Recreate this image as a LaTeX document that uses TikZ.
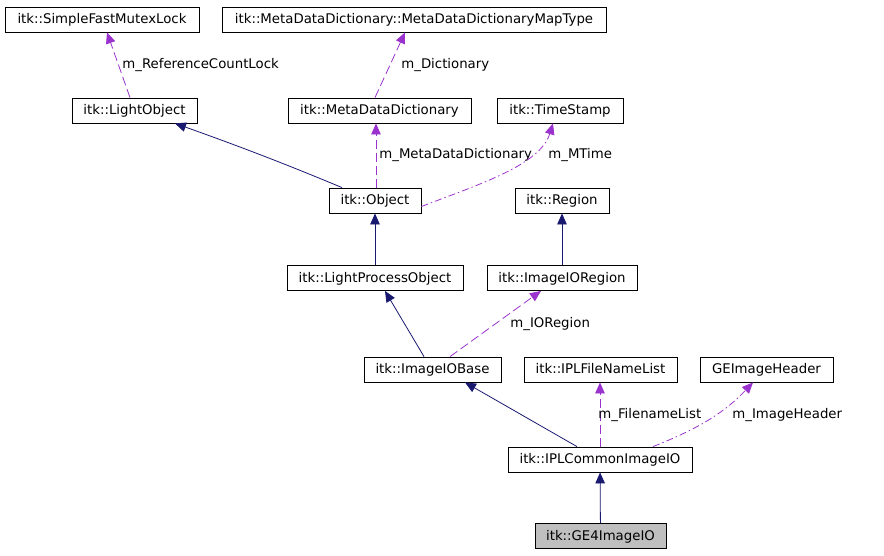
\documentclass[tikz,border=0pt]{standalone}
\usepackage{fontspec}
\setmainfont{DejaVu Sans}
\usetikzlibrary{arrows.meta}
\definecolor{inherit}{HTML}{191970}
\definecolor{member}{HTML}{9A32CD}
\tikzset{
  cls/.style={draw, line width=0.8pt, inner sep=0pt, minimum height=25pt,
    text height=10pt, text depth=2pt, font=\fontsize{13.3}{15}\selectfont},
  isa/.style={color=inherit, line width=0.8pt, -{Triangle[length=11pt,width=9.5pt]}},
  uses/.style={color=member, line width=0.8pt, dash pattern=on 9pt off 4pt,
    -{Triangle[length=11pt,width=9.5pt]}},
  usesdot/.style={uses, dash pattern=on 7pt off 3pt on 1.5pt off 3pt},
  lbl/.style={text=black, inner sep=0pt, anchor=base west, font=\fontsize{13.3}{15}\selectfont}
}
\begin{document}
\begin{tikzpicture}[x=1pt,y=-1pt]
\useasboundingbox (0,0) rectangle (884,555);
% classes
\node[cls, minimum width=194pt] (sfml) at (102,19.5) {itk::SimpleFastMutexLock};
\node[cls, minimum width=384pt] (maptype) at (414,19.5) {itk::MetaDataDictionary::MetaDataDictionaryMapType};
\node[cls, minimum width=125pt] (lightobj) at (134.5,110.5) {itk::LightObject};
\node[cls, minimum width=183pt] (mdd) at (379.5,110.5) {itk::MetaDataDictionary};
\node[cls, minimum width=126pt] (tstamp) at (560,110.5) {itk::TimeStamp};
\node[cls, minimum width=92pt] (object) at (375,200.5) {itk::Object};
\node[cls, minimum width=94pt] (region) at (562,200.5) {itk::Region};
\node[cls, minimum width=176pt] (lpo) at (375,278) {itk::LightProcessObject};
\node[cls, minimum width=150pt] (ioregion) at (562,278) {itk::ImageIORegion};
\node[cls, minimum width=137pt] (iobase) at (432.5,369.5) {itk::ImageIOBase};
\node[cls, minimum width=153pt] (fnlist) at (600.5,369.5) {itk::IPLFileNameList};
\node[cls, minimum width=133pt] (gehdr) at (766.5,369.5) {GEImageHeader};
\node[cls, minimum width=184pt] (iplc) at (600,459.5) {itk::IPLCommonImageIO};
\node[cls, minimum width=131pt, fill=black!25] (ge4) at (600.5,536) {itk::GE4ImageIO};
% members
\draw[uses] ([xshift=-4.5pt]lightobj.north) -- ([xshift=5pt]sfml.south)
  node[lbl] at (122,68) {m\_ReferenceCountLock};
\draw[uses] ([xshift=-4.5pt]mdd.north) -- ([xshift=-9pt]maptype.south)
  node[lbl] at (401,68) {m\_Dictionary};
\draw[uses] ([xshift=1pt]object.north) -- ([xshift=-3.5pt]mdd.south)
  node[lbl] at (379,158) {m\_MetaDataDictionary};
\draw[usesdot] ([yshift=-6pt]object.east) .. controls (480,184) and (540,165) .. ([xshift=-7pt]tstamp.south)
  node[lbl] at (548,158) {m\_MTime};
\draw[uses] ([xshift=17.5pt]iobase.north) -- ([xshift=-21pt]ioregion.south)
  node[lbl] at (510,327) {m\_IORegion};
\draw[uses] ([xshift=-0.5pt]fnlist.south |- iplc.north) -- ([xshift=-0.5pt]fnlist.south)
  node[lbl] at (598,418) {m\_FilenameList};
\draw[usesdot] ([xshift=53pt]iplc.north) .. controls (700,428) and (725,412) .. ([xshift=-13.5pt]gehdr.south)
  node[lbl] at (732,418) {m\_ImageHeader};
% inheritance
\draw[isa] ([xshift=-33pt]object.north) .. controls (300,170) and (250,150) .. ([xshift=40.5pt]lightobj.south);
\draw[isa] (lpo) -- (object);
\draw[isa] (ioregion) -- (region);
\draw[isa] ([xshift=-8.5pt]iobase.north) -- ([xshift=10pt]lpo.south);
\draw[isa] ([xshift=-23pt]iplc.north) -- ([xshift=32.5pt]iobase.south);
\draw[isa] (ge4) -- (iplc);
\end{tikzpicture}
\end{document}
